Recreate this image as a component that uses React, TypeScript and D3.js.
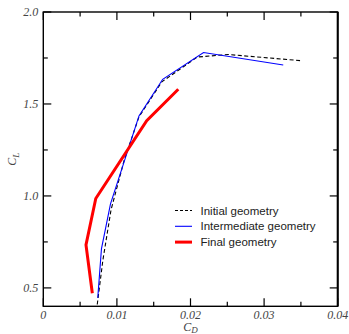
import { useEffect, useRef } from 'react'
import * as d3 from 'd3'

type Pt = [number, number]

// C_D, C_L pairs
const initialGeometry: Pt[] = [
  [0.00733, 0.41], [0.0081, 0.652], [0.0092, 0.924], [0.011, 1.196], [0.013, 1.43],
  [0.0161, 1.62], [0.0209, 1.755], [0.0251, 1.769], [0.0351, 1.735],
]
const intermediateGeometry: Pt[] = [
  [0.0074, 0.446], [0.0079, 0.712], [0.00913, 0.957], [0.013, 1.435],
  [0.01622, 1.634], [0.02177, 1.78], [0.0326, 1.712],
]
const finalGeometry: Pt[] = [
  [0.00666, 0.471], [0.0058, 0.734], [0.00713, 0.986], [0.01405, 1.409], [0.01834, 1.58],
]

const xTicks = [0, 0.01, 0.02, 0.03, 0.04]
const xTickLabels = ['0', '0.01', '0.02', '0.03', '0.04']
const xMinor = [0.005, 0.015, 0.025, 0.035]
const yTicks = [0.5, 1.0, 1.5, 2.0]
const yMinor = [0.75, 1.25, 1.75]

const series = [
  { label: 'Initial geometry', data: initialGeometry, color: '#000', width: 1.1, dash: '4,2.5' },
  { label: 'Intermediate geometry', data: intermediateGeometry, color: '#0000ff', width: 1.1, dash: null },
  { label: 'Final geometry', data: finalGeometry, color: '#ff0000', width: 3, dash: null },
]

const App = () => {
  const svgRef = useRef<SVGSVGElement>(null)

  useEffect(() => {
    if (!svgRef.current) return
    const svg = d3.select(svgRef.current)
    svg.selectAll('*').remove()

    const left = 43.3, right = 337.7, top = 12, bottom = 306.3
    const x = d3.scaleLinear().domain([0, 0.04]).range([left, right])
    const y = d3.scaleLinear().domain([0.4, 2.0]).range([bottom, top])

    const tickColor = '#000'
    const labelFont = '"Liberation Serif", "Times New Roman", serif'

    // frame
    svg.append('rect')
      .attr('x', left).attr('y', top)
      .attr('width', right - left).attr('height', bottom - top)
      .attr('fill', 'none').attr('stroke', '#000').attr('stroke-width', 1.4)
    svg.append('line')
      .attr('x1', right).attr('x2', right).attr('y1', top).attr('y2', bottom)
      .attr('stroke', '#000').attr('stroke-width', 2)

    // ticks, inward on all four sides
    const xt = [...xTicks.map(v => ({ v, len: 8 })), ...xMinor.map(v => ({ v, len: 4.5 }))]
    xt.forEach(t => {
      svg.append('line').attr('x1', x(t.v)).attr('x2', x(t.v))
        .attr('y1', bottom).attr('y2', bottom - t.len).attr('stroke', tickColor).attr('stroke-width', 1.2)
      svg.append('line').attr('x1', x(t.v)).attr('x2', x(t.v))
        .attr('y1', top).attr('y2', top + t.len).attr('stroke', tickColor).attr('stroke-width', 1.2)
    })
    const yt = [...yTicks.map(v => ({ v, len: 8 })), ...yMinor.map(v => ({ v, len: 4.5 }))]
    yt.forEach(t => {
      svg.append('line').attr('y1', y(t.v)).attr('y2', y(t.v))
        .attr('x1', left).attr('x2', left + t.len).attr('stroke', tickColor).attr('stroke-width', 1.2)
      svg.append('line').attr('y1', y(t.v)).attr('y2', y(t.v))
        .attr('x1', right).attr('x2', right - t.len).attr('stroke', tickColor).attr('stroke-width', 1.2)
    })

    // tick labels
    xTicks.forEach((v, i) => {
      svg.append('text')
        .attr('x', x(v)).attr('y', bottom + 13)
        .attr('text-anchor', 'middle')
        .style('font-family', labelFont).style('font-style', 'italic')
        .style('font-size', '12px').style('fill', '#444')
        .text(xTickLabels[i])
    })
    yTicks.forEach(v => {
      svg.append('text')
        .attr('x', left - 5).attr('y', y(v) + 4)
        .attr('text-anchor', 'end')
        .style('font-family', labelFont).style('font-style', 'italic')
        .style('font-size', '12px').style('fill', '#444')
        .text(v.toFixed(1))
    })

    // axis titles
    const xl = svg.append('text')
      .attr('x', (left + right) / 2).attr('y', 331)
      .attr('text-anchor', 'middle')
      .style('font-family', labelFont).style('font-style', 'italic')
      .style('font-size', '12px').style('fill', '#444')
    xl.append('tspan').text('C')
    xl.append('tspan').attr('dy', 2).style('font-size', '9px').text('D')

    const yl = svg.append('text')
      .attr('transform', `translate(16,${(top + bottom) / 2}) rotate(-90)`)
      .attr('text-anchor', 'middle')
      .style('font-family', labelFont).style('font-style', 'italic')
      .style('font-size', '12px').style('fill', '#444')
    yl.append('tspan').text('C')
    yl.append('tspan').attr('dy', 3).style('font-size', '9px').text('L')

    // curves
    const line = d3.line<Pt>().x(d => x(d[0])).y(d => y(d[1]))
    series.forEach(s => {
      const p = svg.append('path')
        .attr('d', line(s.data))
        .attr('fill', 'none')
        .attr('stroke', s.color)
        .attr('stroke-width', s.width)
        .attr('stroke-linejoin', 'miter')
      if (s.dash) p.attr('stroke-dasharray', s.dash)
    })

    // legend
    series.forEach((s, i) => {
      const ly = 210.5 + i * 15.8
      const l = svg.append('line')
        .attr('x1', 175).attr('x2', 192).attr('y1', ly).attr('y2', ly)
        .attr('stroke', s.color).attr('stroke-width', s.width)
      if (s.dash) l.attr('stroke-dasharray', '3,2')
      svg.append('text')
        .attr('x', 200.5).attr('y', ly + 4)
        .style('font-family', '"Liberation Sans", Arial, sans-serif')
        .style('font-size', '11.5px').style('fill', '#222')
        .text(s.label)
    })
  }, [])

  return (
    <svg
      ref={svgRef}
      width={349}
      height={334}
      style={{ position: 'absolute', left: 0, top: 0, background: '#fff' }}
    />
  )
}

export default App
